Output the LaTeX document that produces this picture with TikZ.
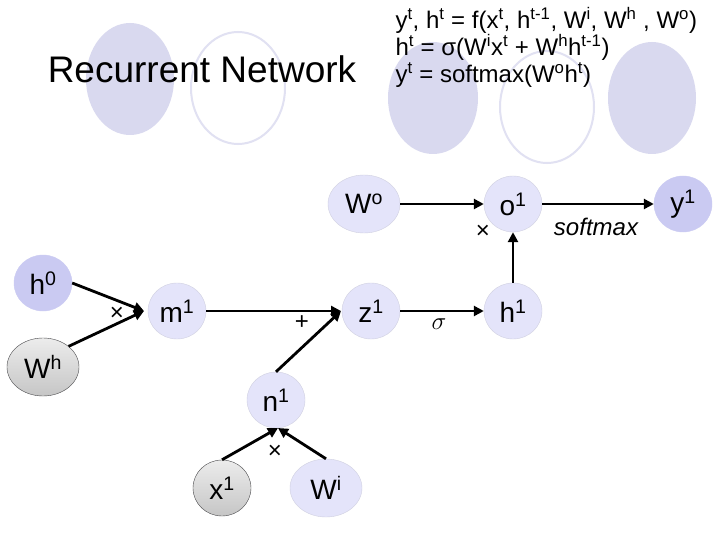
\documentclass[tikz,border=0pt]{standalone}
\usepackage{fontspec}
\setmainfont{Liberation Sans}
\usetikzlibrary{arrows.meta,shapes.geometric}
\begin{document}
\begin{tikzpicture}[x=1pt,y=-1pt,
  nd/.style={ellipse,minimum width=58pt,minimum height=56pt,inner sep=0pt,font=\fontsize{28}{28}\selectfont,fill=lav,draw=lav!80!gray},
  big/.style={nd,minimum width=72pt,minimum height=58pt},
  dk/.style={fill=lavd,draw=lavd},
  gr/.style={top color=gray!15,bottom color=gray!45,draw=black!70},
  ar/.style={line width=2.8pt,-{Triangle[length=10pt,width=10pt]}},
  lb/.style={font=\fontsize{24}{24}\selectfont}]
\definecolor{lav}{HTML}{E4E4FA}
\definecolor{lavd}{HTML}{CACAF2}
\definecolor{bgc}{HTML}{D9D9EF}
\useasboundingbox (0,0) rectangle (720,540);
\fill[white] (0,0) rectangle (720,540);
% background decorations
\fill[bgc] (130,79) ellipse (44 and 56);
\draw[bgc!80!white,line width=2pt] (238,88) ellipse (47 and 56);
\fill[bgc] (433,98) ellipse (45 and 56);
\draw[bgc!80!white,line width=2pt] (547,107) ellipse (47 and 56);
\fill[bgc] (652,98) ellipse (44 and 56);
\node[font=\fontsize{37}{37}\selectfont] (title) at (202,69) {Recurrent Network};
\node[anchor=west,align=left,font=\fontsize{24}{27}\selectfont] (eq) at (392,47)
 {y\textsuperscript{t}, h\textsuperscript{t} = f(x\textsuperscript{t}, h\textsuperscript{t-1}, W\textsuperscript{i}, W\textsuperscript{h} , W\textsuperscript{o})\\
  h\textsuperscript{t} = σ(W\textsuperscript{i}x\textsuperscript{t} + W\textsuperscript{h}h\textsuperscript{t-1})\\
  y\textsuperscript{t} = softmax(W\textsuperscript{o}h\textsuperscript{t})};
% nodes
\node[big] (wo) at (364,204) {W\textsuperscript{o}};
\node[nd] (o1) at (513,204) {o\textsuperscript{1}};
\node[nd,dk] (y1) at (683,204) {y\textsuperscript{1}};
\node[nd,dk] (h0) at (43,283) {h\textsuperscript{0}};
\node[big,gr] (wh) at (43,367) {W\textsuperscript{h}};
\node[nd] (m1) at (177,311) {m\textsuperscript{1}};
\node[nd] (z1) at (371,311) {z\textsuperscript{1}};
\node[nd] (h1) at (513,311) {h\textsuperscript{1}};
\node[nd] (n1) at (276,400) {n\textsuperscript{1}};
\node[nd,gr] (x1) at (222,488) {x\textsuperscript{1}};
\node[big] (wi) at (326,488) {W\textsuperscript{i}};
\coordinate (mj) at (144,311);
\coordinate (zj) at (341,311);
\coordinate (nj) at (278,428);
% edges
\draw[ar] (h0.east) -- (mj);
\draw[ar] (wh.north east) -- (mj);
\draw[ar] (m1.east) -- (zj);
\draw[ar] (n1.north) -- (zj);
\draw[ar] (z1.east) -- (h1.west);
\draw[ar] (h1.north) -- (o1.south);
\draw[ar] (wo.east) -- (o1.west);
\draw[ar] (o1.east) -- (y1.west);
\draw[ar] (x1.north) -- (nj);
\draw[ar] (wi.north) -- (nj);
% labels
\node[lb] (l1) at (117,314) {×};
\node[lb] (l2) at (302,323) {+};
\node[lb] (l3) at (439,324) {$\sigma$};
\node[lb] (l4) at (275,452) {×};
\node[lb] (l5) at (483,232) {×};
\node[lb] (l6) at (596,227) {$\mathit{softmax}$};
\end{tikzpicture}
\end{document}
